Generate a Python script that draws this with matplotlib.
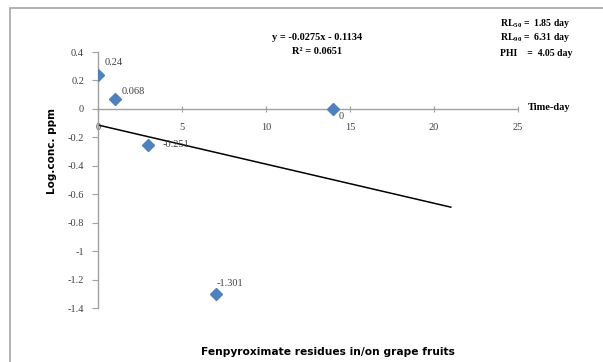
import matplotlib
matplotlib.use("Agg")
import matplotlib.pyplot as plt
from matplotlib.patches import Rectangle
import numpy as np

SERIF = "Liberation Serif"
BLUE = "#4F81BD"

plt.rcParams["mathtext.fontset"] = "custom"
plt.rcParams["mathtext.rm"] = SERIF
plt.rcParams["mathtext.bf"] = SERIF + ":bold"

# данные
days = [0, 1, 3, 7, 14]
log_conc = [0.24, 0.068, -0.251, -1.301, 0]
point_labels = ["0.24", "0.068", "-0.251", "-1.301", "0"]
label_offsets = [(7, 12), (7, 8), (14, 0), (1, 10), (5, -8)]  # px

slope = -0.0275
intercept = -0.1134
trend_x = [0, 21]

x_ticks = [0, 5, 10, 15, 20, 25]
y_ticks = [0.4, 0.2, 0, -0.2, -0.4, -0.6, -0.8, -1, -1.2, -1.4]

fig = plt.figure(figsize=(6.03, 3.62), dpi=100)
fig.patches.append(Rectangle((10 / 603, -0.01), 1.0, (362 - 8) / 362 + 0.01,
                             transform=fig.transFigure, fill=False,
                             edgecolor="#a6a6a6", linewidth=1.2))

ax = fig.add_axes([98 / 603, 54 / 362, 420 / 603, 256 / 362])
ax.set_xlim(0, 25)
ax.set_ylim(-1.4, 0.4)

for s in ("top", "right"):
    ax.spines[s].set_visible(False)
ax.spines["left"].set_position(("data", 0))
ax.spines["bottom"].set_position(("data", 0))
for s in ("left", "bottom"):
    ax.spines[s].set_color("#a0a0a0")
    ax.spines[s].set_linewidth(1.0)

ax.set_xticks(x_ticks)
ax.set_xticklabels([str(t) for t in x_ticks], fontfamily=SERIF, fontsize=7.5,
                   color="#404040")
ax.set_yticks(y_ticks)
ax.set_yticklabels([("%g" % t) for t in y_ticks], fontfamily=SERIF,
                   fontsize=7.5, color="#404040")
ax.tick_params(axis="x", direction="inout", length=5, color="#a0a0a0", pad=8)
ax.tick_params(axis="y", direction="out", length=4, color="#a0a0a0", pad=6)

# линия тренда
tx = np.array(trend_x)
ax.plot(tx, slope * tx + intercept, color="black", linewidth=1.1, zorder=2)

# точки
ax.plot(days, log_conc, linestyle="none", marker="D", markersize=6.5,
        color=BLUE, markeredgecolor=BLUE, zorder=3)
for x, y, lab, (dx, dy) in zip(days, log_conc, point_labels, label_offsets):
    ax.annotate(lab, (x, y), xytext=(dx * 0.72, dy * 0.72),
                textcoords="offset points", fontfamily=SERIF, fontsize=7.5,
                color="#404040", va="center", ha="left")

fig.text(528 / 603, 1 - 108 / 362, "Time-day", fontfamily=SERIF,
         fontweight="bold", fontsize=7.5, va="center", ha="left")
fig.text(317 / 603, 1 - 37 / 362, "y = -0.0275x - 0.1134", fontfamily=SERIF,
         fontweight="bold", fontsize=7.5, va="center", ha="center")
fig.text(317 / 603, 1 - 52 / 362, "R² = 0.0651", fontfamily=SERIF,
         fontweight="bold", fontsize=7.5, va="center", ha="center")

fig.text(500 / 603, 1 - 23 / 362, r"RL$_{\mathbf{50}}$ =  1.85 day",
         fontfamily=SERIF, fontweight="bold", fontsize=7, va="center", ha="left")
fig.text(500 / 603, 1 - 38 / 362, r"RL$_{\mathbf{90}}$ =  6.31 day",
         fontfamily=SERIF, fontweight="bold", fontsize=7, va="center", ha="left")
fig.text(500 / 603, 1 - 53 / 362, "PHI    =  4.05 day", fontfamily=SERIF,
         fontweight="bold", fontsize=7, va="center", ha="left")

fig.text(52 / 603, 1 - 151 / 362, "Log.conc. ppm", fontfamily="DejaVu Sans",
         fontweight="bold", fontsize=7.5, rotation=90, va="center", ha="center")
fig.text(328 / 603, 1 - 352 / 362, "Fenpyroximate residues in/on grape fruits",
         fontfamily="DejaVu Sans", fontweight="bold", fontsize=7.7,
         va="center", ha="center")

fig.savefig("out.png", dpi=100)
